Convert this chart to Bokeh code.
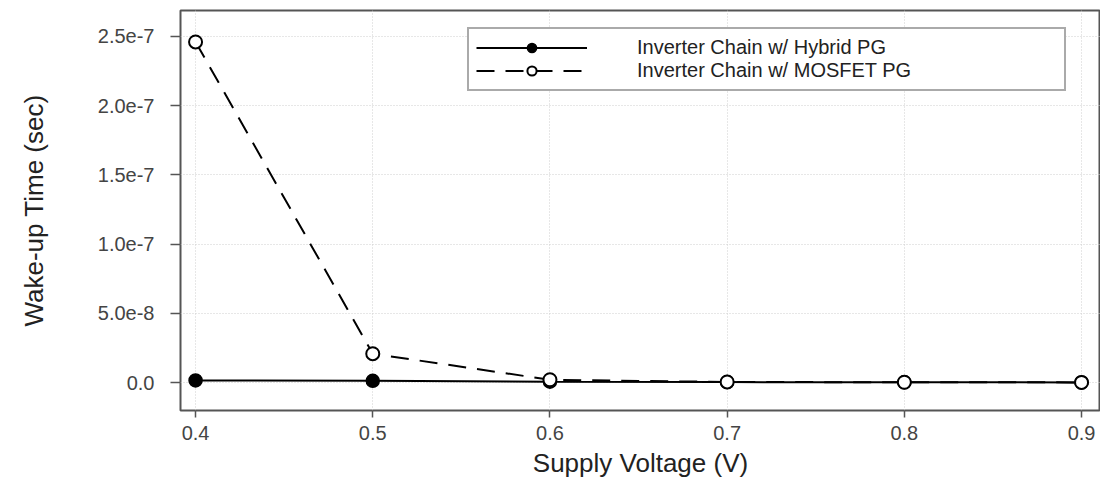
from bokeh.plotting import figure
from bokeh.models import (Range1d, FixedTicker, CustomJSTickFormatter, Legend, LegendItem)
from bokeh.embed import file_html
from bokeh.resources import INLINE

# ---- data ----
voltage = [0.4, 0.5, 0.6, 0.7, 0.8, 0.9]
hybrid_pg = [1.5e-9, 1.2e-9, 0.6e-9, 0.3e-9, 0.2e-9, 0.1e-9]
mosfet_pg = [2.46e-7, 2.08e-8, 2.0e-9, 0.4e-9, 0.2e-9, 0.1e-9]
series_names = ["Inverter Chain w/ Hybrid PG", "Inverter Chain w/ MOSFET PG"]
x_ticks = [0.4, 0.5, 0.6, 0.7, 0.8, 0.9]
y_ticks = [0.0, 5e-8, 1e-7, 1.5e-7, 2e-7, 2.5e-7]
y_tick_labels = ["0.0", "5.0e-8", "1.0e-7", "1.5e-7", "2.0e-7", "2.5e-7"]
x_title = "Supply Voltage (V)"
y_title = "Wake-up Time (sec)"

FONT = "Liberation Sans"

p = figure(width=1100, height=480, output_backend="svg", toolbar_location=None,
           x_range=Range1d(0.3915, 0.9107), y_range=Range1d(-2.02e-8, 2.687e-7),
           min_border_left=180, min_border_right=0, min_border_top=10, min_border_bottom=69)

p.outline_line_color = "#555555"
p.outline_line_width = 2

# grid
for g in (p.xgrid, p.ygrid):
    g.grid_line_color = "#cfcfcf"
    g.grid_line_dash = "1 2"
    g.grid_line_width = 1
p.xgrid.ticker = FixedTicker(ticks=x_ticks)
p.ygrid.ticker = FixedTicker(ticks=y_ticks)

# axes
p.xaxis.ticker = FixedTicker(ticks=x_ticks)
p.yaxis.ticker = FixedTicker(ticks=y_ticks)
p.yaxis.formatter = CustomJSTickFormatter(args=dict(labels=y_tick_labels),
                                          code="return labels[index];")
p.xaxis.formatter = CustomJSTickFormatter(code="return tick.toFixed(1);")
for ax in (p.xaxis[0], p.yaxis[0]):
    ax.axis_line_color = None
    ax.major_tick_line_color = "#555555"
    ax.major_tick_line_width = 1.5
    ax.major_tick_in = 0
    ax.minor_tick_line_color = None
    ax.major_label_text_font = FONT
    ax.major_label_text_font_size = "20px"
    ax.major_label_text_color = "#444444"
    ax.axis_label_text_font = FONT
    ax.axis_label_text_font_style = "normal"
    ax.axis_label_text_color = "#222222"

p.xaxis.major_tick_out = 7
p.xaxis.major_label_standoff = 8
p.xaxis.axis_label = x_title
p.xaxis.axis_label_text_font_size = "26px"
p.xaxis.axis_label_standoff = 5

p.yaxis.major_tick_out = 10
p.yaxis.major_label_standoff = 16
p.yaxis.axis_label = y_title
p.yaxis.axis_label_text_font_size = "26px"
p.yaxis.axis_label_standoff = 46

# series
l1 = p.line(voltage, hybrid_pg, line_color="black", line_width=2)
m1 = p.scatter(voltage, hybrid_pg, marker="circle", size=13, fill_color="black",
               line_color="black", line_width=1.5)
l2 = p.line(voltage, mosfet_pg, line_color="black", line_width=2, line_dash="18 11")
m2 = p.scatter(voltage, mosfet_pg, marker="circle", size=13, fill_color="white",
               line_color="black", line_width=2)

legend = Legend(items=[LegendItem(label=series_names[0], renderers=[l1, m1]),
                       LegendItem(label=series_names[1], renderers=[l2, m2])],
                location=(287, 319))
legend.border_line_color = "#555555"
legend.border_line_width = 2
legend.background_fill_color = "white"
legend.background_fill_alpha = 1
legend.padding = 7
legend.spacing = 0
legend.margin = 0
legend.glyph_width = 111
legend.glyph_height = 23
legend.label_height = 21
legend.label_width = 420
legend.label_standoff = 50
legend.label_text_font = FONT
legend.label_text_font_size = "20px"
legend.label_text_color = "#222222"
p.add_layout(legend, "center")

open("out.html", "w").write(file_html(p, INLINE))
